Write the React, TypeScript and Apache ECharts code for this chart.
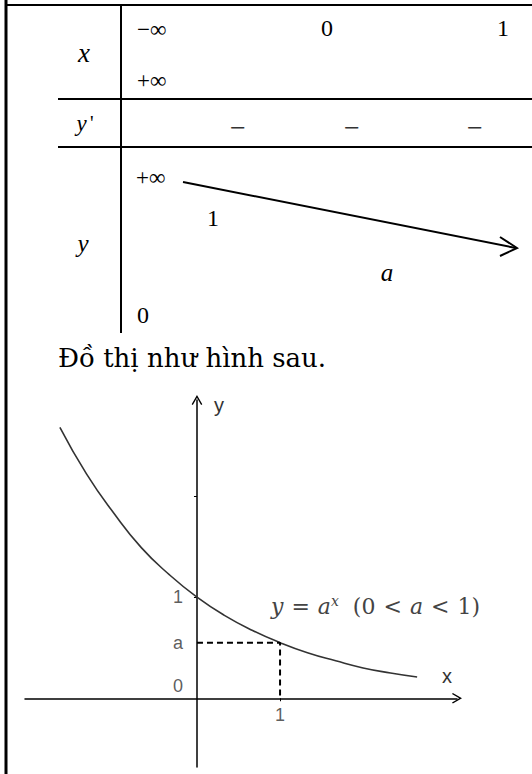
import React, { useEffect, useRef } from "react";
import * as echarts from "echarts";

// Curve y = a^x, sampled points (x, y)
const curveX = [-1.65, -1.33, -1, -0.67, -0.33, 0, 0.33, 0.67, 1, 1.33, 1.67, 2, 2.33, 2.65];
const curveY = [2.68, 2.22, 1.83, 1.49, 1.22, 1.0, 0.82, 0.67, 0.55, 0.45, 0.37, 0.3, 0.25, 0.21];

// Base a of the exponential (value of the curve at x = 1)
const aValue = 0.55;

// Tick marks on the axes
const xTickValues = [1];
const yTickValues = [1, 2];

// Labels placed next to the axes: [x, y, text]
const axisMarks: [number, number, string][] = [
  [0, 1, "1"],
  [0, aValue, "a"],
];
const originLabel = "0";
const xUnitLabel = "1";

// Variation table texts
const tableXRow = ["\u2212\u221e", "0", "1", "+\u221e"];
const tableSigns = ["\u2212", "\u2212", "\u2212"];
const tableYRow = ["+\u221e", "1", "a", "0"];
const caption = "Đồ thị như hình sau.";

const SERIF = "'Liberation Serif', 'DejaVu Serif', serif";
const MATH = "'DejaVu Serif', serif";
const SANS = "'Liberation Sans', Arial, sans-serif";

const chevron = "path://M5,0 L10,8.6 L8.9,9.4 L5,2.6 L1.1,9.4 L0,8.6 Z";

function txt(text: string, x: number, y: number, size: number, opts: any = {}) {
  return {
    type: "text",
    x,
    y,
    silent: true,
    style: {
      text,
      fontFamily: opts.family || SERIF,
      fontSize: size,
      fontStyle: opts.italic ? "italic" : "normal",
      align: opts.align || "center",
      verticalAlign: "middle",
      fill: opts.color || "#000",
    },
  };
}

function seg(x1: number, y1: number, x2: number, y2: number, w = 2) {
  return {
    type: "line",
    silent: true,
    shape: { x1, y1, x2, y2 },
    style: { stroke: "#000", lineWidth: w },
  };
}

const labelFont = { fontFamily: SANS, fontSize: 18, color: "#333" };
const eqColor = "#444";

export default function App() {
  const ref = useRef<HTMLDivElement>(null);

  useEffect(() => {
    if (!ref.current) return;
    const chart = echarts.init(ref.current, undefined, { renderer: "svg" });

    const graphic: any[] = [
      // table frame
      seg(6, 0, 6, 774, 3),
      seg(6, 5, 532, 5, 2),
      seg(121, 5, 121, 333, 2),
      seg(58, 99, 532, 99, 2),
      seg(58, 147, 532, 147, 2),
      // row: x
      txt("x", 84, 53, 27, { italic: true }),
      txt(tableXRow[0], 137, 29, 23, { align: "left" }),
      txt(tableXRow[1], 327, 28, 24),
      txt(tableXRow[2], 503, 28, 24),
      txt(tableXRow[3], 137, 80, 23, { align: "left" }),
      // row: y'
      {
        type: "text",
        x: 85,
        y: 123,
        silent: true,
        style: {
          text: "{i|y} {n|'}",
          verticalAlign: "middle",
          align: "center",
          rich: {
            i: { fontFamily: SERIF, fontStyle: "italic", fontSize: 23, fill: "#000" },
            n: { fontFamily: SERIF, fontSize: 20, fill: "#000" },
          },
        },
      },
      txt(tableSigns[0], 238, 127, 28, { color: "#333" }),
      txt(tableSigns[1], 352, 127, 28, { color: "#333" }),
      txt(tableSigns[2], 475, 127, 28, { color: "#333" }),
      // row: y
      txt("y", 83, 243, 25, { italic: true }),
      txt(tableYRow[0], 136, 177, 23, { align: "left" }),
      txt(tableYRow[1], 213, 218, 24),
      txt(tableYRow[2], 387, 272, 25, { italic: true }),
      txt(tableYRow[3], 143, 315, 24),
      // decreasing arrow
      seg(183, 182, 516, 248, 2),
      {
        type: "polyline",
        silent: true,
        shape: { points: [[500, 237], [517, 248], [500, 256]] },
        style: { stroke: "#000", lineWidth: 2, fill: null },
      },
      // caption
      txt(caption, 58, 358, 26, { align: "left", family: "'DejaVu Serif', serif" }),
      // axis titles
      txt("y", 214, 405, 20, { align: "left", family: SANS, color: "#333" }),
      txt("x", 447, 676, 20, { family: SANS, color: "#333" }),
      // curve equation
      {
        type: "text",
        x: 271,
        y: 606,
        silent: true,
        style: {
          text: "{i|y}{o|=}{i|a}{s|x}{g|(0}{o|<}{i|a}{o|<}{n|1)}",
          verticalAlign: "middle",
          align: "left",
          rich: {
            i: { fontFamily: MATH, fontStyle: "italic", fontSize: 22, fill: eqColor },
            n: { fontFamily: MATH, fontSize: 22, fill: eqColor },
            o: { fontFamily: MATH, fontSize: 22, fill: eqColor, padding: [0, 8, 0, 8] },
            g: { fontFamily: MATH, fontSize: 22, fill: eqColor, padding: [0, 0, 0, 14] },
            s: { fontFamily: MATH, fontStyle: "italic", fontSize: 14, fill: eqColor, padding: [0, 0, 11, 0] },
          },
        },
      },
    ];

    chart.setOption({
      animation: false,
      backgroundColor: "#fff",
      grid: { left: 25, right: 75, top: 400, bottom: 7, containLabel: false, outerBoundsMode: "none" },
      xAxis: {
        type: "value",
        min: -2.07,
        max: 3.13,
        splitLine: { show: false },
        axisLine: {
          onZero: true,
          symbol: ["none", chevron],
          symbolSize: [11, 10],
          lineStyle: { color: "#000", width: 1.5 },
        },
        axisTick: { show: true, customValues: xTickValues, length: 3, lineStyle: { color: "#000" } },
        axisLabel: { show: false },
      },
      yAxis: {
        type: "value",
        min: -0.68,
        max: 2.95,
        splitLine: { show: false },
        axisLine: {
          onZero: true,
          symbol: ["none", chevron],
          symbolSize: [11, 10],
          lineStyle: { color: "#000", width: 1.5 },
        },
        axisTick: { show: true, customValues: yTickValues, length: 3, lineStyle: { color: "#000" } },
        axisLabel: { show: false },
      },
      series: [
        {
          type: "line",
          data: curveX.map((x, i) => [x, curveY[i]]),
          smooth: true,
          symbol: "none",
          lineStyle: { color: "#333", width: 1.6 },
          silent: true,
        },
        {
          type: "line",
          data: [[0, aValue], [1, aValue], [1, 0]],
          symbol: "none",
          lineStyle: { color: "#000", width: 2, type: [6, 4] },
          silent: true,
        },
        {
          type: "scatter",
          symbolSize: 0,
          silent: true,
          data: [
            ...axisMarks.map(([x, y, t]) => ({
              value: [x, y],
              label: { show: true, formatter: t, position: "left", distance: 14, ...labelFont },
            })),
            {
              value: [0, 0],
              label: { show: true, formatter: originLabel, position: "left", distance: 14, offset: [0, -12], ...labelFont },
            },
            {
              value: [1, 0],
              label: { show: true, formatter: xUnitLabel, position: "bottom", distance: 8, ...labelFont },
            },
          ],
        },
      ],
      graphic,
    });

    return () => chart.dispose();
  }, []);

  return (
    <div
      ref={ref}
      style={{ position: "fixed", left: 0, top: 0, width: 532, height: 774, background: "#fff" }}
    />
  );
}
